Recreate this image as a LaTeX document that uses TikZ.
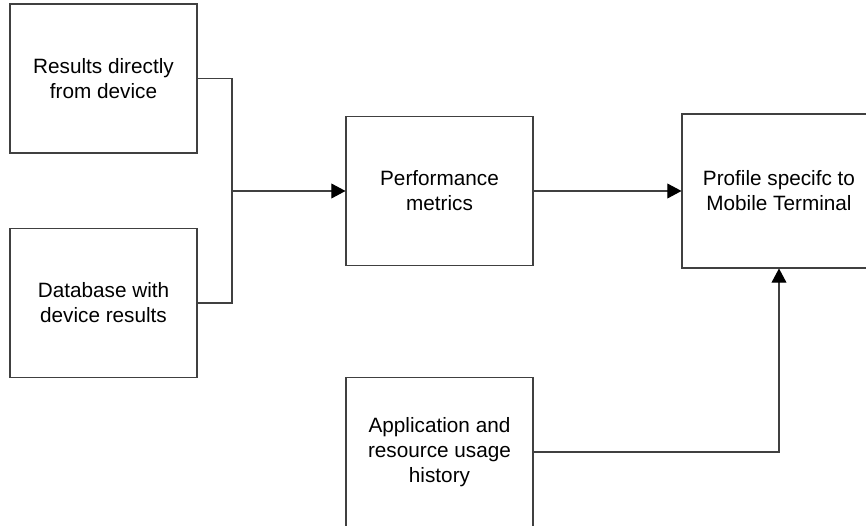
\documentclass[tikz,border=0pt]{standalone}
\usepackage{fontspec}
\setmainfont{Liberation Sans}
\usepackage{tikz}
\usetikzlibrary{arrows.meta,calc}

\tikzset{
  block/.style={draw=black!75, line width=0.6pt, rectangle, align=center,
    minimum width=3.74cm, minimum height=2.98cm, inner sep=0pt,
    font=\fontsize{11.8}{14.2}\selectfont},
  link/.style={draw=black!75, line width=0.6pt},
  flow/.style={link, -{Triangle[length=8pt,width=8.4pt,color=black]}}
}

\begin{document}
\begin{tikzpicture}[x=0.02cm,y=-0.02cm]
\clip (0,0) rectangle (866,526);
% sources
\node[block] (direct) at (103.5,78.5) {Results directly\\from device};
\node[block] (dbase) at (103.5,303) {Database with\\device results};
% middle and right
\node[block] (perf) at (439.5,191) {Performance\\metrics};
\node[block, minimum width=3.88cm, minimum height=3.08cm] (profile) at (779,191) {Profile specifc to\\Mobile Terminal};
\node[block] (usage) at (439.5,452) {Application and\\resource usage\\history};

\coordinate (join) at (232,191);
\draw[link] (direct.east) -| (join) |- (dbase.east);
\draw[flow] (join) -- (perf.west);
\draw[flow] (perf.east) -- (profile.west);
\draw[flow] (usage.east) -| (profile.south);
\end{tikzpicture}
\end{document}
